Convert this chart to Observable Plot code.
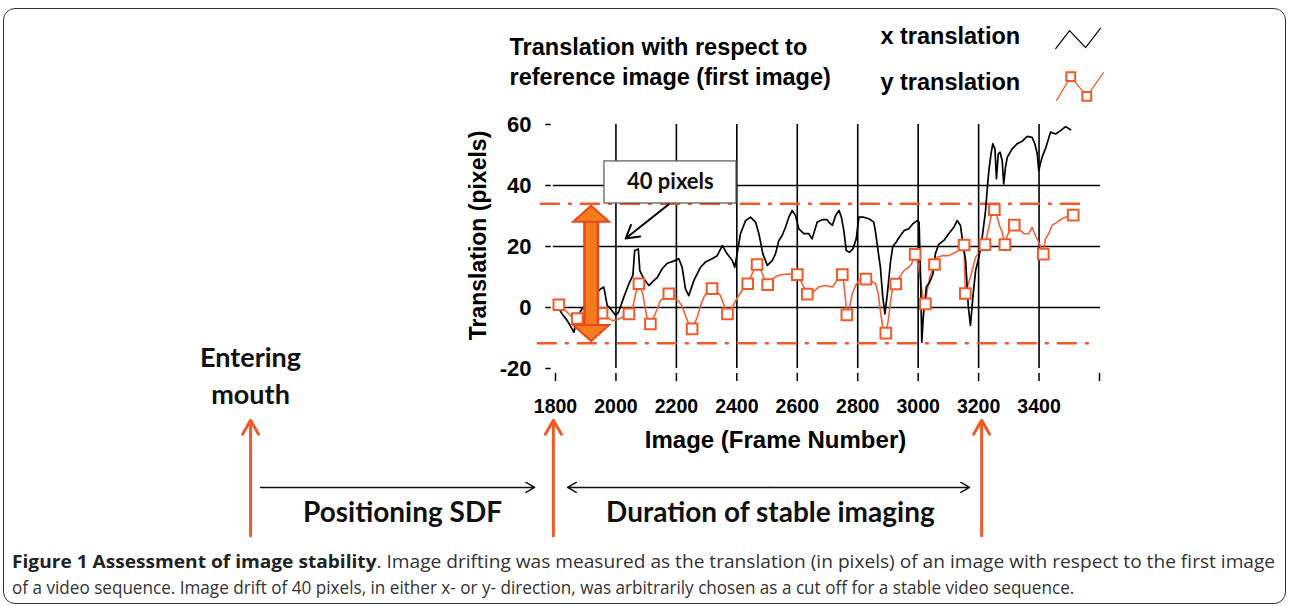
<!DOCTYPE html>
<html><head><meta charset="utf-8">
<script src="https://cdn.jsdelivr.net/npm/d3@7"></script>
<script src="https://cdn.jsdelivr.net/npm/@observablehq/plot@0.6"></script>
<style>
html,body{margin:0;padding:0;background:#fff;width:1289px;height:606px;overflow:hidden;position:relative}
#chart{position:absolute;left:0;top:0}
#frame{position:absolute;left:3px;top:8px;width:1281px;height:594px;border:1.5px solid #333;border-radius:12px;pointer-events:none}
#caption{position:absolute;left:12px;top:548px;font-family:"Open Sans",sans-serif;font-size:18px;line-height:26px;color:#333;white-space:nowrap}
#caption .l{display:inline-block;transform-origin:0 50%}
#caption b{color:#222}
</style></head><body>
<div id="chart"></div>
<div id="caption"><span class="l" id="c1"><b>Figure 1 Assessment of image stability</b>. Image drifting was measured as the translation (in pixels) of an image with respect to the first image</span><br><span class="l" id="c2">of a video sequence. Image drift of 40 pixels, in either x- or y- direction, was arbitrarily chosen as a cut off for a stable video sequence.</span></div>
<div id="frame"></div>
<script>
// ---- x translation (black line) ----
const xFrames = [1811,1822,1839,1861,1872,1888,1900,1930,1949,1960,1971,1982,1999,2009,2026,2043,2056,2062,2074,2079,2092,2109,2120,2137,2153,2170,2191,2208,2219,2230,2241,2258,2280,2296,2318,2335,2352,2368,2385,2393,2401,2412,2429,2445,2462,2473,2486,2501,2517,2528,2539,2550,2561,2572,2583,2594,2605,2622,2638,2649,2666,2683,2699,2704,2716,2727,2738,2746,2754,2762,2773,2784,2795,2804,2820,2837,2853,2859,2868,2875,2883,2890,2898,2909,2916,2927,2938,2953,2969,2982,2997,3003,3008,3012,3017,3027,3038,3049,3057,3068,3085,3101,3118,3129,3140,3148,3157,3166,3173,3181,3190,3201,3212,3223,3229,3234,3241,3247,3254,3259,3265,3271,3278,3283,3289,3295,3311,3328,3344,3361,3377,3386,3394,3399,3410,3421,3438,3455,3471,3488,3504];
const xValues = [-0.4,-2.1,-4.3,-8.1,-3.2,-0.4,1.0,4.0,6.1,6.7,0.7,-0.4,-2.6,-1.5,3.4,7.8,10.5,18.7,19.2,12.1,9.4,7.2,8.3,9.9,12.7,14.5,15.2,16.0,13.2,6.1,3.9,8.9,13.2,14.9,16.0,17.0,20.3,17.6,15.4,13.2,17.6,24.2,28.5,29.6,28.0,24.2,17.6,13.8,15.4,17.6,22.0,23.6,26.3,29.6,31.8,30.2,25.8,24.2,24.2,22.5,28.0,28.8,28.8,28.0,26.9,30.2,31.8,29.6,25.2,18.7,18.1,19.2,22.5,29.6,29.6,29.1,28.0,24.7,18.1,13.2,3.4,-2.1,4.5,15.4,20.0,21.4,23.1,25.2,25.8,27.4,28.5,28.0,10.0,-11.4,-3.0,6.7,8.3,11.0,17.6,20.7,22.0,24.2,26.3,28.5,26.9,20.9,15.4,0.1,-5.9,3.4,12.1,16.5,23.1,31.8,39.4,44.9,50.4,53.7,52.0,42.2,50.4,50.9,48.2,40.5,46.0,49.3,52.0,53.7,54.5,56.1,55.8,53.7,50.4,44.9,49.3,52.0,57.5,56.9,58.0,59.3,58.3];

// ---- y translation (red line with square markers) ----
const yFrames = [1811,1833,1855,1872,1910,1935,1954,1971,1988,2004,2021,2043,2056,2065,2076,2089,2098,2103,2114,2125,2137,2147,2162,2175,2191,2206,2217,2230,2241,2252,2269,2280,2291,2302,2318,2335,2346,2354,2363,2369,2379,2393,2404,2418,2436,2445,2456,2467,2478,2489,2502,2515,2530,2550,2572,2600,2611,2622,2633,2644,2655,2671,2693,2716,2732,2749,2754,2760,2764,2773,2782,2793,2804,2827,2842,2859,2868,2875,2883,2893,2901,2909,2916,2926,2938,2953,2969,2978,2990,3000,3008,3015,3024,3030,3038,3054,3063,3080,3101,3124,3140,3152,3156,3173,3190,3207,3221,3234,3245,3252,3262,3269,3278,3287,3295,3306,3318,3333,3350,3366,3377,3388,3401,3414,3421,3432,3443,3460,3476,3493,3513];
const yValues = [0.9,-1.0,-3.2,-3.6,-2.5,-1.5,-1.9,-3.2,-4.3,-4.0,-3.2,-2.1,0.1,4.5,7.8,4.5,-1.0,-3.2,-5.4,-3.2,-0.4,2.3,3.2,4.5,2.9,2.3,0.7,-2.6,-5.4,-7.0,-3.2,0.7,3.4,5.0,6.2,5.0,3.9,1.7,-0.4,-2.1,-1.5,1.7,3.6,5.6,7.8,9.9,12.1,14.1,12.7,9.9,7.5,9.1,10.2,10.8,11.0,10.8,8.9,6.7,4.4,3.4,5.3,6.7,7.2,6.7,8.9,10.8,7.8,2.3,-2.4,0.1,4.5,7.2,8.9,9.3,8.9,7.8,4.5,-1.0,-6.4,-8.4,-4.3,2.3,6.7,7.7,9.9,12.1,13.2,14.3,17.4,14.3,8.9,3.4,1.2,5.6,9.9,14.1,16.5,17.0,17.0,18.1,19.2,20.5,4.6,9.9,16.5,18.7,20.6,26.3,31.8,32.1,29.6,26.9,24.7,20.6,23.6,25.8,27.0,25.8,24.2,24.2,26.3,23.6,20.9,17.5,22.5,24.2,26.9,28.0,29.1,29.8,30.3];
const markerFrames = [1811,1872,1954,2043,2076,2114,2175,2252,2318,2369,2436,2467,2502,2600,2633,2749,2764,2827,2893,2926,2990,3024,3054,3152,3156,3221,3252,3287,3318,3414,3513];
const markerValues = [0.9,-3.6,-1.9,-2.1,7.8,-5.4,4.5,-7.0,6.2,-2.1,7.8,14.1,7.5,10.8,4.4,10.8,-2.4,9.3,-8.4,7.7,17.4,1.2,14.1,20.5,4.6,20.6,32.1,20.6,27.0,17.5,30.3];

// ---- axes ----
const xTicks = [1800,2000,2200,2400,2600,2800,3000,3200,3400,3600];
const xTickLabels = ["1800","2000","2200","2400","2600","2800","3000","3200","3400",""];
const xGrid = [2000,2200,2400,2600,2800,3000,3200,3400];
const yTicks = [-20,0,20,40,60];
const yTickLabels = ["-20","0","20","40","60"];
const yGrid = [0,20,40];

// ---- annotations ----
const limitLines = [{y: 34, x1: 1750, x2: 3545}, {y: -11.7, x1: 1740, x2: 3570}];
const driftArrow = {x: 1918, top: 33.4, bottom: -11.0, shaftTop: 28.4, shaftBottom: -6.0};
const calloutBox = {x1: 1962, x2: 2399, y1: 34.1, y2: 47.9, label: "40 pixels", tx: 2180, ty: 41.0};
const calloutArrow = {x1: 2174, y1: 33.8, x2: 2032, y2: 22.6};
const eventFrames = [791, 1793, 3210];
const eventLabels = [{x: 791, y: -21.6, text: "Entering\nmouth"}];
const phaseArrows = [{x1: 824, x2: 1731}, {x1: 2505, x2: 3170}, {x1: 2505, x2: 1840}];
const phaseLabels = [{x: 1294, text: "Positioning SDF"}, {x: 2511, text: "Duration of stable imaging"}];
const legendXFrames = [3455, 3501, 3554, 3603];
const legendXValues = [84.9, 90.8, 85.2, 91.5];
const legendYFrames = [3458, 3505, 3558, 3613];
const legendYValues = [67.9, 75.7, 69.2, 77.0];

const RED = "#f05a28";
const ARIAL = "'Liberation Sans', Arial, sans-serif";
const HUMAN = "Lato, 'Open Sans', sans-serif";

const upHead = {draw(ctx) { ctx.moveTo(0, 0); ctx.lineTo(18, 16); ctx.lineTo(-18, 16); ctx.closePath(); }};
const downHead = {draw(ctx) { ctx.moveTo(0, 0); ctx.lineTo(18, -16); ctx.lineTo(-18, -16); ctx.closePath(); }};

const chart = Plot.plot({
  width: 1289,
  height: 540,
  marginLeft: 555,
  marginRight: 190,
  marginTop: 124,
  marginBottom: 172,
  x: {domain: [1800, 3600]},
  y: {domain: [-20, 60]},
  style: {fontFamily: ARIAL, background: "transparent", color: "#000", overflow: "visible"},
  marks: [
    // grid
    Plot.ruleX(xGrid, {y1: -20, y2: 60, stroke: "#000", strokeWidth: 1.6}),
    Plot.ruleY(yGrid, {x1: 1793, x2: 3603, stroke: "#000", strokeWidth: 1.6}),
    // tick marks
    Plot.ruleY(yTicks, {x1: 1768, x2: 1786, stroke: "#000", strokeWidth: 1.5}),
    Plot.ruleX(xTicks, {y1: -21.6, y2: -24.3, stroke: "#000", strokeWidth: 1.5}),
    // axes labels
    Plot.axisX({ticks: xTicks, tickSize: 0, tickPadding: 31, tickFormat: d => xTickLabels[xTicks.indexOf(d)], fontSize: 19.5, fontWeight: "bold", fontFamily: ARIAL, label: null, fill: "#000"}),
    Plot.axisY({ticks: yTicks, tickSize: 0, tickPadding: 24, tickFormat: d => yTickLabels[yTicks.indexOf(d)], fontSize: 22, fontWeight: "bold", fontFamily: ARIAL, label: null, fill: "#000"}),
    Plot.text(["Image (Frame Number)"], {x: 2528, y: -43.6, text: d => d, fontSize: 24, fontWeight: "bold", fontFamily: ARIAL, fill: "#000"}),
    Plot.text(["Translation (pixels)"], {x: 1545, y: 23.6, text: d => d, rotate: -90, fontSize: 23, fontWeight: "bold", fontFamily: ARIAL, fill: "#000"}),
    // limits
    Plot.ruleY(limitLines, {y: "y", x1: "x1", x2: "x2", stroke: RED, strokeWidth: 2.5, strokeDasharray: "20,8,4,8"}),
    // series
    Plot.line(yFrames, {x: yFrames, y: yValues, stroke: "#f2603a", strokeWidth: 1.6}),
    Plot.line(xFrames, {x: xFrames, y: xValues, stroke: "#000", strokeWidth: 1.7}),
    Plot.dot(markerFrames, {x: markerFrames, y: markerValues, symbol: "square", r: 6, fill: "#fff", stroke: RED, strokeWidth: 2}),
    // 40 pixel double arrow
    Plot.ruleX([driftArrow], {x: "x", y1: "shaftBottom", y2: "shaftTop", stroke: "#e8471c", strokeWidth: 16}),
    Plot.ruleX([driftArrow], {x: "x", y1: "shaftBottom", y2: "shaftTop", stroke: "#f47b20", strokeWidth: 11}),
    Plot.dot([driftArrow], {x: "x", y: "top", symbol: upHead, fill: "#f47b20", stroke: "#e8471c", strokeWidth: 2}),
    Plot.dot([driftArrow], {x: "x", y: "bottom", symbol: downHead, fill: "#f47b20", stroke: "#e8471c", strokeWidth: 2}),
    // callout
    Plot.rect([calloutBox], {x1: "x1", x2: "x2", y1: "y1", y2: "y2", fill: "#fff", stroke: "#555", strokeWidth: 1.2}),
    Plot.text([calloutBox], {x: "tx", y: "ty", text: "label", fontSize: 22, fontWeight: "bold", fontFamily: HUMAN, fill: "#111"}),
    Plot.arrow([calloutArrow], {x1: "x1", y1: "y1", x2: "x2", y2: "y2", stroke: "#000", strokeWidth: 2, headLength: 11}),
    // events below the chart
    Plot.arrow(eventFrames, {x1: d => d, x2: d => d, y1: -74.8, y2: -37.0, stroke: RED, strokeWidth: 3, headLength: 8}),
    Plot.text(eventLabels, {x: "x", y: "y", text: "text", fontSize: 27, lineHeight: 1.37, fontWeight: "bold", fontFamily: HUMAN, fill: "#111"}),
    Plot.arrow(phaseArrows, {x1: "x1", x2: "x2", y1: -59.0, y2: -59.0, stroke: "#111", strokeWidth: 1.5, headLength: 10}),
    Plot.text(phaseLabels, {x: "x", y: -67.5, text: "text", fontSize: 28, fontWeight: "bold", fontFamily: HUMAN, fill: "#111"}),
    // title
    Plot.text(["Translation with respect to\nreference image (first image)"], {x: 1648, y: 81.0, text: d => d, textAnchor: "start", lineHeight: 1.28, fontSize: 23.5, fontWeight: "bold", fontFamily: ARIAL, fill: "#000"}),
    // legend
    Plot.text(["x translation", "y translation"], {x: 2875, y: [88.9, 73.8], text: d => d, textAnchor: "start", fontSize: 23.5, fontWeight: "bold", fontFamily: ARIAL, fill: "#000"}),
    Plot.line(legendXFrames, {x: legendXFrames, y: legendXValues, stroke: "#000", strokeWidth: 1.2}),
    Plot.line(legendYFrames, {x: legendYFrames, y: legendYValues, stroke: RED, strokeWidth: 1.2}),
    Plot.dot([1, 2], {x: [legendYFrames[1], legendYFrames[2]], y: [legendYValues[1], legendYValues[2]], symbol: "square", r: 5, fill: "#fff", stroke: RED, strokeWidth: 2})
  ]
});
document.getElementById("chart").appendChild(chart);

// fit caption lines to their measured widths
function fitLine(id, target) {
  const el = document.getElementById(id);
  const w = el.offsetWidth;
  el.style.transform = `scaleX(${target / w})`;
}
fitLine("c1", 1263);
fitLine("c2", 1062);
</script>
</body></html>
